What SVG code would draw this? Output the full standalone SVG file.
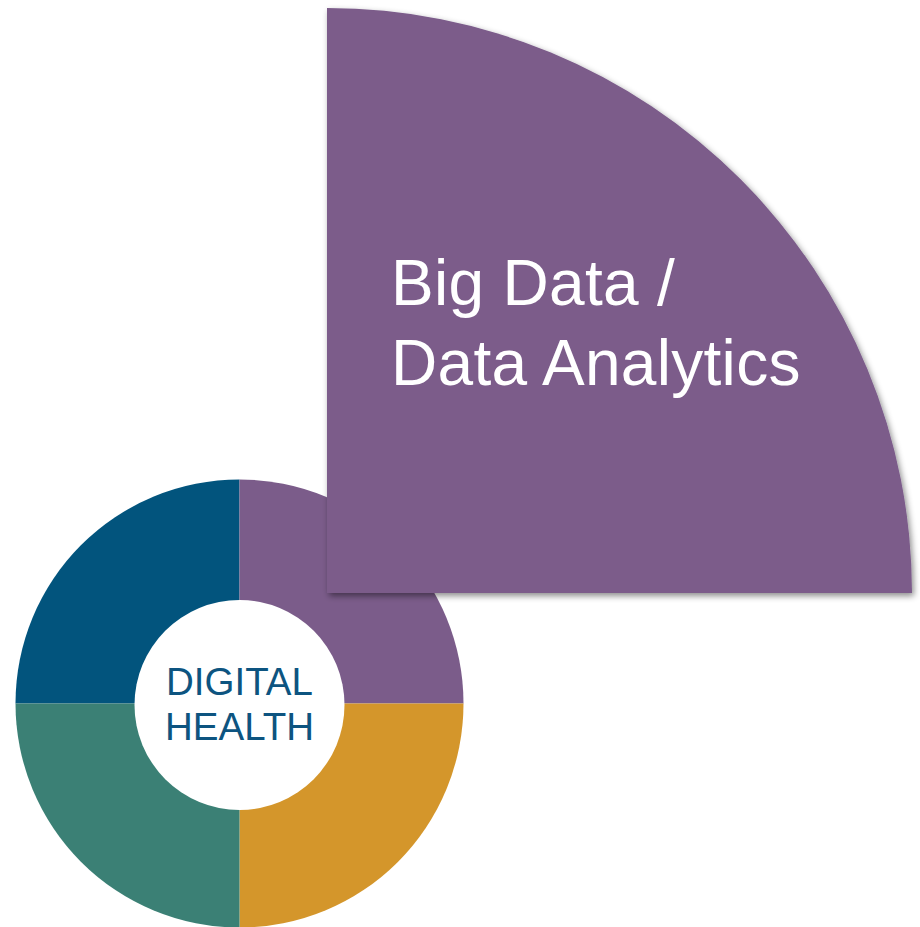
<svg xmlns="http://www.w3.org/2000/svg" width="920" height="927" viewBox="0 0 920 927">
  <defs>
    <filter id="shadow" x="-5%" y="-5%" width="115%" height="115%">
      <feDropShadow dx="2" dy="3" stdDeviation="3" flood-color="#000" flood-opacity="0.45"/>
    </filter>
    <style>
      .big { font-family: "Liberation Sans", Arial, sans-serif; font-size: 64px; letter-spacing: 0.3px; fill: #ffffff; }
      .dh { font-family: "Liberation Sans", Arial, sans-serif; font-size: 38.5px; fill: #0D5480; text-anchor: middle; }
    </style>
  </defs>
  <rect width="920" height="927" fill="#ffffff"/>
  <g id="donut">
    <path d="M239.5,703.5 L15.5,703.5 A224,224 0 0 1 239.5,479.5 Z" fill="#02547D"/>
    <path d="M239.5,703.5 L239.5,479.5 A224,224 0 0 1 463.5,703.5 Z" fill="#7B5C8A"/>
    <path d="M239.5,703.5 L463.5,703.5 A224,224 0 0 1 239.5,927.5 Z" fill="#D4962B"/>
    <path d="M239.5,703.5 L239.5,927.5 A224,224 0 0 1 15.5,703.5 Z" fill="#3B8075"/>
  </g>
  <g id="digital-health">
    <circle cx="239.5" cy="705" r="105" fill="#ffffff"/>
    <text class="dh" x="239.5" y="694.5">DIGITAL</text>
    <text class="dh" x="239.5" y="740">HEALTH</text>
  </g>
  <g id="big-data">
    <path d="M327,593 L327,8 A585,585 0 0 1 912,593 Z" fill="#7B5C8A" filter="url(#shadow)"/>
    <text class="big" x="391" y="305">Big Data /</text>
    <text class="big" x="391" y="385">Data Analytics</text>
  </g>
</svg>
